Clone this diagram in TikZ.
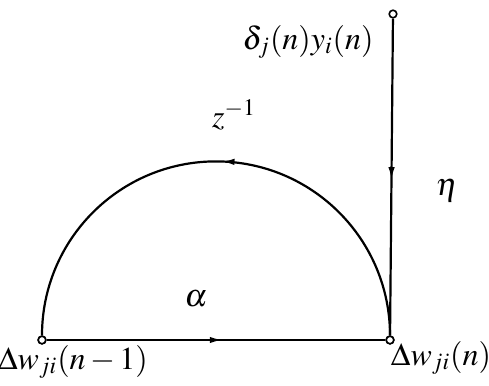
\documentclass[tikz,border=0pt]{standalone}
\usepackage{amsmath}
\usepackage{mathptmx}
\usepackage{tikz}
\usetikzlibrary{arrows.meta, decorations.markings}

\begin{document}
\begin{tikzpicture}[
    x=0.5pt, y=0.5pt,
    line width=1.1pt,
    port/.style={circle, draw, fill=white, inner sep=0pt, minimum size=3.8pt, line width=0.8pt},
    lbl/.style={inner sep=0pt, font=\fontsize{16}{19}\selectfont},
    midarrow/.style={postaction={decorate}, decoration={markings,
        mark=at position #1 with {\arrow{Latex[length=6.5pt,width=3.2pt]}}}},
]
\useasboundingbox (0,0) rectangle (489,386);

% ports
\node[port] (wold) at (42,46) {};
\node[port] (wnew) at (390,46) {};
\node[port] (input) at (393,372) {};

% branches
\draw[midarrow=0.52] (wold) -- (wnew);
\draw[midarrow=0.51] (input) -- (wnew);
\draw[midarrow=0.49] (wnew.north) arc[start angle=0, end angle=180, radius=174];
\node[port] at (wold) {};
\node[port] at (wnew) {};

% labels
\node[lbl] (grad) at (308,344) {$\delta_j(n)y_i(n)$};
\node[lbl] (delay) at (234,271) {$z^{-1}$};
\node[lbl] (eta) at (447,195) {$\eta$};
\node[lbl] (alpha) at (196,87) {$\alpha$};
\node[lbl] (woldlbl) at (73,24) {$\Delta w_{ji}(n-1)$};
\node[lbl] (wnewlbl) at (441,28) {$\Delta w_{ji}(n)$};

\end{tikzpicture}
\end{document}
